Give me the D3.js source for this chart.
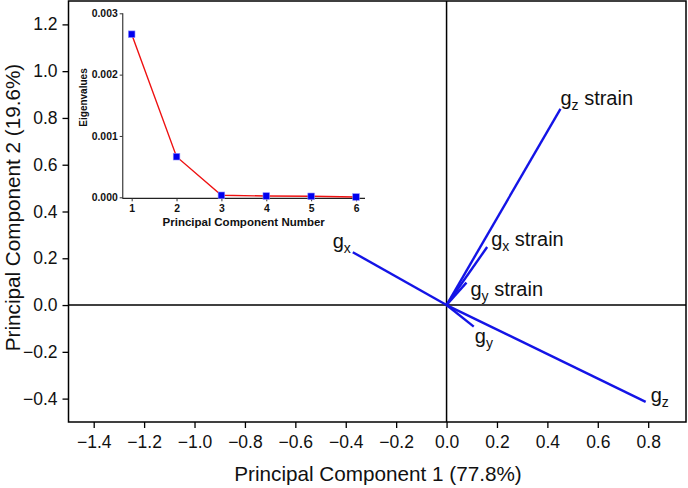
<!DOCTYPE html>
<html>
<head>
<meta charset="utf-8">
<script src="https://cdn.jsdelivr.net/npm/d3@7"></script>
<style>
  html, body { margin: 0; padding: 0; background: #fff; }
  svg { display: block; font-family: "Liberation Sans", Arial, sans-serif; }
</style>
</head>
<body>
<svg id="chart" width="688" height="488"></svg>
<script>
// ---------- data ----------
const loadingBase = ["g", "g", "g", "g", "g", "g"];
const loadingSub = ["z", "x", "y", "x", "y", "z"];
const loadingSuffix = [" strain", " strain", " strain", "", "", ""];
const pc1 = [0.452, 0.161, 0.079, -0.372, 0.108, 0.790];
const pc2 = [0.839, 0.248, 0.096, 0.226, -0.092, -0.414];

const xTicks = [-1.4, -1.2, -1.0, -0.8, -0.6, -0.4, -0.2, 0.0, 0.2, 0.4, 0.6, 0.8];
const yTicks = [-0.4, -0.2, 0.0, 0.2, 0.4, 0.6, 0.8, 1.0, 1.2];

const componentNumbers = [1, 2, 3, 4, 5, 6];
const eigenvalues = [0.002659, 0.000662, 0.0000326, 0.000021, 0.000016, 0.000005];
const eigenYTicks = [0.000, 0.001, 0.002, 0.003];

// ---------- layout (label offsets in px from vector tips) ----------
const labelLayout = [
  { dx: 0, dy: -4, anchor: "start" },
  { dx: 4, dy: -1, anchor: "start" },
  { dx: 4, dy: 13, anchor: "start" },
  { dx: -2, dy: -4, anchor: "end" },
  { dx: 1, dy: 16, anchor: "start" },
  { dx: 5, dy: 0, anchor: "start" }
];

const svg = d3.select("#chart");

// ---------- main plot ----------
const L = 68.5, R = 686, T = 1, B = 422;
const x = d3.scaleLinear().domain([-1.5, 0.95]).range([L, R]);
const y = d3.scaleLinear().domain([-0.5, 1.3]).range([B, T]);

// frame
svg.append("rect")
  .attr("x", L).attr("y", T).attr("width", R - L).attr("height", B - T)
  .attr("fill", "none").attr("stroke", "#000").attr("stroke-width", 1.5);

// axes
const xAxis = svg.append("g").attr("transform", `translate(0,${B})`)
  .call(d3.axisBottom(x).tickValues(xTicks).tickFormat(d3.format(".1f")).tickSize(6).tickPadding(8));
const yAxis = svg.append("g").attr("transform", `translate(${L},0)`)
  .call(d3.axisLeft(y).tickValues(yTicks).tickFormat(d3.format(".1f")).tickSize(6).tickPadding(5));
[xAxis, yAxis].forEach(a => {
  a.select(".domain").remove();
  a.selectAll(".tick line").attr("stroke", "#000").attr("stroke-width", 1.3);
  a.selectAll(".tick text").attr("font-size", 17.5).attr("fill", "#111")
    .attr("font-family", "'Liberation Sans', Arial, sans-serif");
});

// zero lines
svg.append("line").attr("x1", L).attr("x2", R).attr("y1", y(0)).attr("y2", y(0))
  .attr("stroke", "#000").attr("stroke-width", 1.5);
svg.append("line").attr("x1", x(0)).attr("x2", x(0)).attr("y1", T).attr("y2", B)
  .attr("stroke", "#000").attr("stroke-width", 1.5);

// axis titles
svg.append("text").attr("x", 378).attr("y", 481)
  .attr("text-anchor", "middle").attr("font-size", 20.7).attr("fill", "#111")
  .text("Principal Component 1 (77.8%)");
svg.append("text")
  .attr("transform", `translate(20,207.5) rotate(-90)`)
  .attr("text-anchor", "middle").attr("font-size", 20.7).attr("fill", "#111")
  .text("Principal Component 2 (19.6%)");

// vectors
const vectors = pc1.map((v, i) => ({ x: v, y: pc2[i], i }));
svg.append("g").selectAll("line").data(vectors).join("line")
  .attr("x1", x(0)).attr("y1", y(0))
  .attr("x2", d => x(d.x)).attr("y2", d => y(d.y))
  .attr("stroke", "#1414e6").attr("stroke-width", 2.4).attr("stroke-linecap", "butt");

// labels
const lbl = svg.append("g").selectAll("text").data(vectors).join("text")
  .attr("x", d => x(d.x) + labelLayout[d.i].dx)
  .attr("y", d => y(d.y) + labelLayout[d.i].dy)
  .attr("text-anchor", d => labelLayout[d.i].anchor)
  .attr("font-size", 20).attr("fill", "#111");
lbl.append("tspan").text(d => loadingBase[d.i]);
lbl.append("tspan").attr("font-size", 14).attr("dy", 5).text(d => loadingSub[d.i]);
lbl.filter(d => loadingSuffix[d.i] !== "").append("tspan").attr("dy", -5)
  .text(d => "\u00a0" + loadingSuffix[d.i].trim());

// ---------- inset scree plot ----------
const iL = 122.7, iR = 365, iT = 13.3, iB = 197.3;
const ix = d3.scaleLinear().domain([0.8, 6.2]).range([iL, iR]);
const iy = d3.scaleLinear().domain([0, 0.003]).range([iB, iT]);

const inset = svg.append("g");
// y axis line
inset.append("line").attr("x1", iL).attr("x2", iL).attr("y1", iT).attr("y2", iB + 1.5)
  .attr("stroke", "#555").attr("stroke-width", 1.4);
// x axis line
inset.append("line").attr("x1", iL).attr("x2", iR).attr("y1", iB + 1).attr("y2", iB + 1)
  .attr("stroke", "#222").attr("stroke-width", 1.2);

const ixAxis = inset.append("g").attr("transform", `translate(0,${iB + 1})`)
  .call(d3.axisBottom(ix).tickValues(componentNumbers).tickFormat(d3.format("d")).tickSize(3).tickPadding(3));
const iyAxis = inset.append("g").attr("transform", `translate(${iL},0)`)
  .call(d3.axisLeft(iy).tickValues(eigenYTicks).tickFormat(d3.format(".3f")).tickSize(3).tickPadding(2));
[ixAxis, iyAxis].forEach(a => {
  a.select(".domain").remove();
  a.selectAll(".tick line").attr("stroke", "#333").attr("stroke-width", 1);
  a.selectAll(".tick text").attr("font-size", 10.4).attr("font-weight", "bold").attr("fill", "#111")
    .attr("font-family", "'Liberation Sans', Arial, sans-serif");
});

inset.append("text").attr("x", 243.7).attr("y", 226)
  .attr("text-anchor", "middle").attr("font-size", 11.5).attr("font-weight", "bold").attr("fill", "#111")
  .text("Principal Component Number");
inset.append("text").attr("transform", `translate(87,97.5) rotate(-90)`)
  .attr("text-anchor", "middle").attr("font-size", 10).attr("font-weight", "bold").attr("fill", "#111")
  .text("Eigenvalues");

const eig = componentNumbers.map((c, i) => ({ c, v: eigenvalues[i] }));
inset.append("path").datum(eig)
  .attr("d", d3.line().x(d => ix(d.c)).y(d => iy(d.v)))
  .attr("fill", "none").attr("stroke", "#ee1111").attr("stroke-width", 1.4);
inset.append("g").selectAll("rect").data(eig).join("rect")
  .attr("x", d => ix(d.c) - 3.3).attr("y", d => iy(d.v) - 3.3)
  .attr("width", 6.6).attr("height", 6.6)
  .attr("fill", "#0000ee").attr("stroke", "#8a8aff").attr("stroke-width", 0.6);
</script>
</body>
</html>
